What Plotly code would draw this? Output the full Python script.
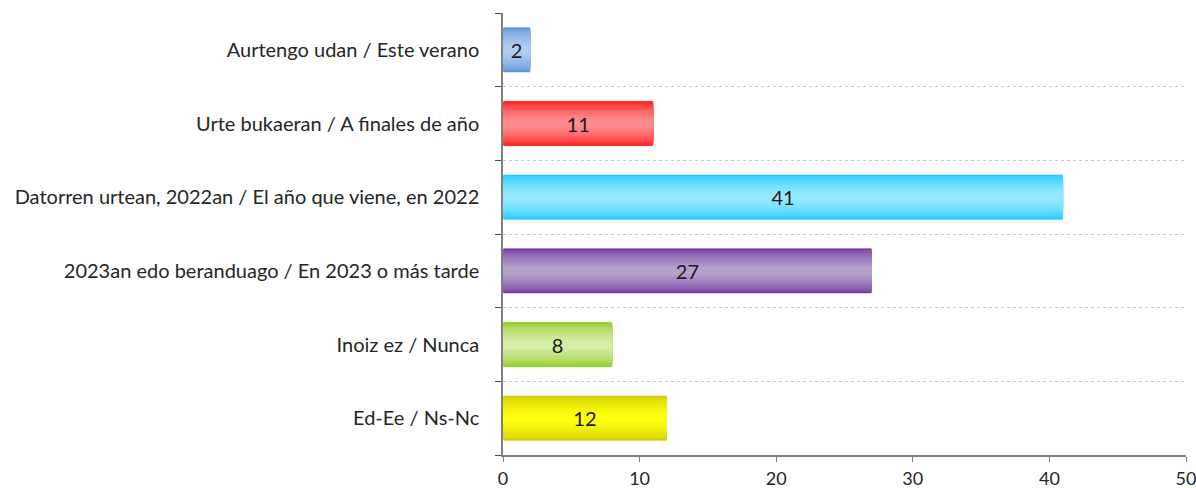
import plotly.graph_objects as go

# Survey answers (top to bottom) and percentages
categories = [
    "Aurtengo udan / Este verano",
    "Urte bukaeran / A finales de año",
    "Datorren urtean, 2022an / El año que viene, en 2022",
    "2023an edo beranduago / En 2023 o más tarde",
    "Inoiz ez / Nunca",
    "Ed-Ee / Ns-Nc",
]
values = [2, 11, 41, 27, 8, 12]

# Each bar is shaded from a darker edge colour to a lighter centre colour
edge_colors = ["#5A8FD8", "#FF1414", "#18C8FF", "#7030A0", "#8CC820", "#CCC800"]
center_colors = ["#B0CDF0", "#FF8C8C", "#96EAFF", "#B4A2CA", "#D6ECA6", "#FFFF10"]

BAR_WIDTH = 0.62
LAYERS = 14
FONT = "Lato, Open Sans, sans-serif"


def hex_to_rgb(h):
    h = h.lstrip("#")
    return tuple(int(h[i:i + 2], 16) for i in (0, 2, 4))


def mix(c1, c2, t):
    a, b = hex_to_rgb(c1), hex_to_rgb(c2)
    return "rgb({},{},{})".format(*(round(a[i] + (b[i] - a[i]) * t) for i in range(3)))


fig = go.Figure()

# Stack progressively narrower bars to build the vertical gradient
for k in range(LAYERS):
    frac = k / (LAYERS - 1)
    t = frac ** 0.6
    width = BAR_WIDTH * (1 - 0.85 * frac)
    fig.add_trace(go.Bar(
        x=values,
        y=categories,
        orientation="h",
        width=width,
        marker=dict(
            color=[mix(e, c, t) for e, c in zip(edge_colors, center_colors)],
            line=dict(width=1 if k == 0 else 0, color="rgba(255,255,255,0.8)"),
        ),
        showlegend=False,
        hoverinfo="skip",
    ))

# Value labels centred on each bar
fig.add_trace(go.Bar(
    x=values,
    y=categories,
    orientation="h",
    width=BAR_WIDTH,
    marker=dict(color="rgba(0,0,0,0)", line=dict(width=0)),
    text=[str(v) for v in values],
    textposition="inside",
    insidetextanchor="middle",
    textangle=0,
    constraintext="none",
    textfont=dict(family=FONT, size=20, color="#1a1a1a"),
    showlegend=False,
    hoverinfo="skip",
))

fig.update_layout(
    width=1196,
    height=488,
    barmode="overlay",
    plot_bgcolor="white",
    paper_bgcolor="white",
    margin=dict(l=503, r=10, t=13, b=33, autoexpand=False),
    font=dict(family=FONT, size=20, color="#262626"),
)

fig.update_xaxes(
    range=[0, 50],
    tickvals=[0, 10, 20, 30, 40, 50],
    showgrid=False,
    zeroline=False,
    showline=True,
    linecolor="#7f7f7f",
    linewidth=1.5,
    ticks="outside",
    ticklen=5,
    tickcolor="#7f7f7f",
    tickfont=dict(size=18),
    ticklabeloverflow="allow",
    ticklabelstandoff=2,
    automargin=False,
)

fig.update_yaxes(
    type="category",
    categoryorder="array",
    categoryarray=categories[::-1],
    tickson="boundaries",
    showgrid=True,
    gridcolor="#c8c8c8",
    griddash="dot",
    gridwidth=1,
    showline=True,
    linecolor="#7f7f7f",
    linewidth=1.5,
    ticks="outside",
    ticklen=6,
    tickcolor="#4d4d4d",
    ticklabelstandoff=18,
    automargin=False,
)

fig.write_html("out.html")
